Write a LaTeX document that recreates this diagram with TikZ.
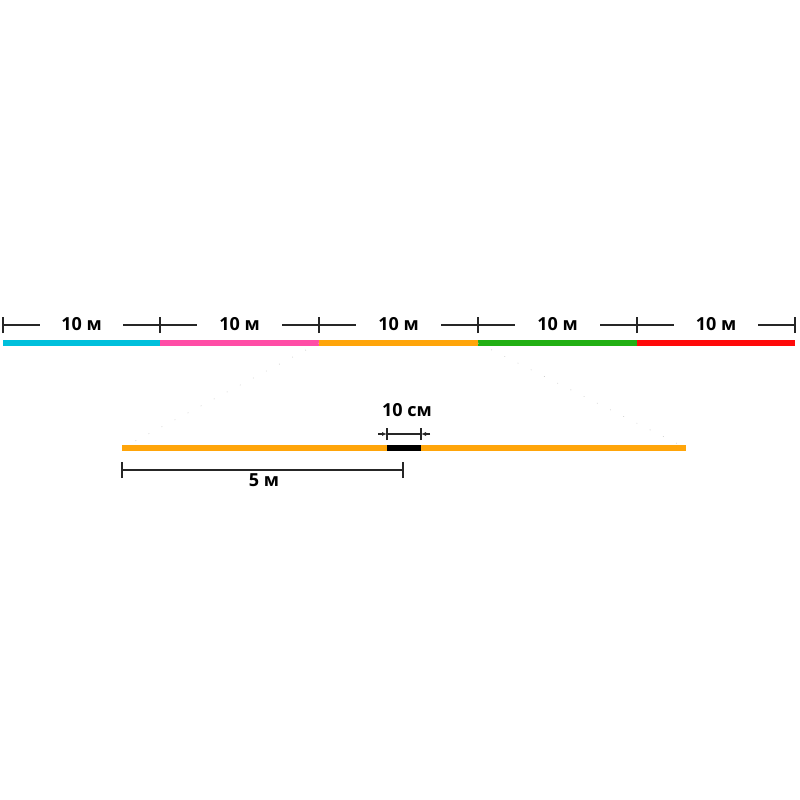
\documentclass[tikz,border=0pt]{standalone}
\usepackage{fontspec}
\setmainfont{Open Sans}
\usetikzlibrary{arrows.meta,calc}
\definecolor{ccyan}{HTML}{00C0DC}
\definecolor{cpink}{HTML}{FF4DA6}
\definecolor{corange}{HTML}{FFA50A}
\definecolor{cgreen}{HTML}{22B014}
\definecolor{cred}{HTML}{FF0A0A}
\tikzset{
  seg/.style={line width=6pt},
  dimline/.style={line width=1.1pt, black!85},
  lbl/.style={font=\bfseries\fontsize{18}{18}\selectfont, inner sep=0pt},
  guide/.style={gray!40, line width=0.6pt, dash pattern=on 0.8pt off 14pt},
}
\begin{document}
\begin{tikzpicture}[x=1pt,y=-1pt]
\useasboundingbox[fill=white] (0,0) rectangle (800,800);
% top ticks positions
\foreach \n/\x in {0/3,1/160,2/319,3/478,4/637,5/795}{
  \coordinate (t\n) at (\x,343);
  \coordinate (d\n) at (\x,325);
}
\draw[seg,ccyan] (t0) -- (t1);
\draw[seg,cpink] (t1) -- (t2);
\draw[seg,corange] (t2) -- (t3);
\draw[seg,cgreen] (t3) -- (t4);
\draw[seg,cred] (t4) -- (t5);
% ticks
\foreach \n in {0,...,5}{
  \draw[dimline] ([yshift=-8]d\n) -- ([yshift=8]d\n);
}
% labels and lines
\foreach \a/\b in {0/1,1/2,2/3,3/4,4/5}{
  \node[lbl] (l\a) at ($(d\a)!0.5!(d\b)+(0,-1)$) {10 м};
  \draw[dimline] (d\a) -- ++(37,0);
  \draw[dimline] (d\b) -- ++(-37,0);
}
% bottom line
\coordinate (bL) at (122,448);
\coordinate (bR) at (686,448);
\coordinate (k1) at (387,448);
\coordinate (k2) at (421,448);
\draw[guide] (t2) -- (bL);
\draw[guide] (t3) -- (bR);
\draw[seg,corange] (bL) -- (bR);
\draw[seg,black] (k1) -- (k2);
% 10 cm dimension
\coordinate (c1) at (387,434);
\coordinate (c2) at (421,434);
\draw[dimline] ([yshift=-6]c1) -- ([yshift=6]c1);
\draw[dimline] ([yshift=-6]c2) -- ([yshift=6]c2);
\draw[dimline] (c1) -- (c2);
\draw[dimline,-{Latex[length=5pt,width=4pt]}] ([xshift=-9]c1) -- (c1);
\draw[dimline,-{Latex[length=5pt,width=4pt]}] ([xshift=9]c2) -- (c2);
\node[lbl] (cm) at (407,410) {10 см};
% 5 m dimension
\coordinate (f1) at (122,470);
\coordinate (f2) at (403,470);
\draw[dimline] ([yshift=-8]f1) -- ([yshift=8]f1);
\draw[dimline] ([yshift=-8]f2) -- ([yshift=8]f2);
\draw[dimline] (f1) -- (f2);
\node[lbl] (fm) at (264,480) {5 м};
\end{tikzpicture}
\end{document}
